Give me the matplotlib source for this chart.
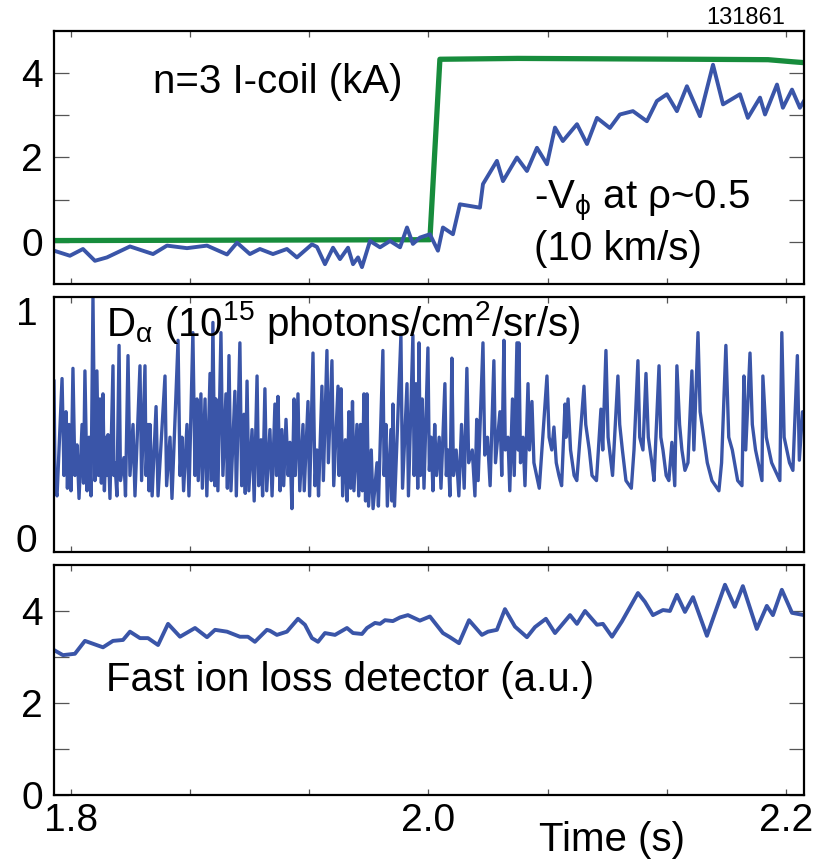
import matplotlib
matplotlib.use("Agg")
import matplotlib.pyplot as plt

plt.rcParams['font.family'] = ['Liberation Sans', 'DejaVu Sans']
plt.rcParams['mathtext.fontset'] = 'custom'
plt.rcParams['mathtext.rm'] = 'Liberation Sans'
plt.rcParams['mathtext.it'] = 'Liberation Sans'

BLUE = '#3a55a8'
GREEN = '#178c3c'

# n=3 I-coil current (kA)
ic_t = [1.7905, 2.0008, 2.0064, 2.05, 2.10, 2.15, 2.19, 2.2039, 2.2101]
ic_v = [0.03, 0.05, 4.33, 4.35, 4.34, 4.33, 4.32, 4.27, 4.25]

# -V_phi at rho~0.5 (10 km/s)
vp_t = [1.7905, 1.7994, 1.8067, 1.8134, 1.8201, 1.8330, 1.8459, 1.8537, 1.8649, 1.8761,
        1.8873, 1.8929, 1.9001, 1.9057, 1.9130, 1.9208, 1.9264, 1.9348, 1.9376, 1.9421,
        1.9466, 1.9505, 1.9550, 1.9578, 1.9606, 1.9628, 1.9673, 1.9729, 1.9785, 1.9841,
        1.9880, 1.9913, 1.9952, 2.0008, 2.0053, 2.0081, 2.0137, 2.0176, 2.0288, 2.0305,
        2.0383, 2.0417, 2.0495, 2.0551, 2.0607, 2.0663, 2.0708, 2.0752, 2.0831, 2.0887,
        2.0943, 2.1015, 2.1071, 2.1144, 2.1222, 2.1278, 2.1334, 2.1390, 2.1446, 2.1519,
        2.1592, 2.1648, 2.1743, 2.1787, 2.1855, 2.1883, 2.1950, 2.1983, 2.2034, 2.2078,
        2.2101]
vp_v = [-0.21, -0.33, -0.17, -0.45, -0.37, -0.11, -0.29, -0.09, -0.15, -0.09,
        -0.30, -0.02, -0.29, -0.17, -0.29, -0.17, -0.37, -0.06, -0.12, -0.53,
        -0.14, -0.41, -0.14, -0.53, -0.37, -0.60, 0.02, -0.13, 0.02, -0.13,
        0.34, -0.05, 0.10, 0.18, -0.21, 0.34, 0.18, 0.89, 0.81, 1.37,
        1.92, 1.44, 2.00, 1.68, 2.23, 1.84, 2.71, 2.39, 2.79, 2.32,
        2.94, 2.70, 3.02, 3.10, 2.86, 3.34, 3.50, 3.10, 3.69, 2.98,
        4.20, 3.26, 3.50, 2.94, 3.42, 3.02, 3.73, 3.18, 3.61, 3.18,
        3.34]

# D-alpha (1e15 photons/cm2/sr/s)
da_t = [1.7905, 1.7911, 1.7922, 1.7950, 1.7961, 1.7972, 1.7980, 1.7989, 1.8000, 1.8011,
        1.8022, 1.8034, 1.8045, 1.8062, 1.8070, 1.8078, 1.8090, 1.8101, 1.8112, 1.8123,
        1.8134, 1.8145, 1.8154, 1.8162, 1.8170, 1.8179, 1.8187, 1.8196, 1.8201, 1.8207,
        1.8218, 1.8235, 1.8240, 1.8246, 1.8257, 1.8269, 1.8277, 1.8296, 1.8305, 1.8319,
        1.8330, 1.8347, 1.8358, 1.8386, 1.8395, 1.8414, 1.8420, 1.8431, 1.8437, 1.8442,
        1.8454, 1.8476, 1.8487, 1.8526, 1.8535, 1.8554, 1.8565, 1.8599, 1.8610, 1.8621,
        1.8630, 1.8649, 1.8660, 1.8682, 1.8694, 1.8705, 1.8712, 1.8727, 1.8735, 1.8750,
        1.8760, 1.8778, 1.8785, 1.8794, 1.8805, 1.8811, 1.8822, 1.8839, 1.8850, 1.8867,
        1.8875, 1.8884, 1.8895, 1.8917, 1.8925, 1.8945, 1.8955, 1.8968, 1.8975, 1.8985,
        1.8995, 1.9013, 1.9025, 1.9041, 1.9050, 1.9063, 1.9072, 1.9085, 1.9095, 1.9113,
        1.9125, 1.9141, 1.9150, 1.9158, 1.9170, 1.9180, 1.9190, 1.9203, 1.9215, 1.9225,
        1.9236, 1.9248, 1.9255, 1.9270, 1.9280, 1.9298, 1.9305, 1.9326, 1.9335, 1.9354,
        1.9365, 1.9376, 1.9385, 1.9404, 1.9412, 1.9432, 1.9440, 1.9460, 1.9470, 1.9494,
        1.9500, 1.9511, 1.9520, 1.9535, 1.9545, 1.9555, 1.9565, 1.9575, 1.9583, 1.9600,
        1.9610, 1.9620, 1.9630, 1.9639, 1.9648, 1.9656, 1.9665, 1.9680, 1.9690, 1.9712,
        1.9720, 1.9745, 1.9752, 1.9762, 1.9770, 1.9790, 1.9795, 1.9801, 1.9810, 1.9846,
        1.9855, 1.9880, 1.9888, 1.9913, 1.9920, 1.9930, 1.9940, 1.9947, 1.9955, 1.9965,
        1.9975, 1.9997, 2.0005, 2.0015, 2.0025, 2.0035, 2.0045, 2.0060, 2.0070, 2.0092,
        2.0100, 2.0110, 2.0120, 2.0131, 2.0140, 2.0155, 2.0170, 2.0185, 2.0200, 2.0215,
        2.0225, 2.0245, 2.0260, 2.0270, 2.0278, 2.0305, 2.0315, 2.0330, 2.0345, 2.0366,
        2.0375, 2.0400, 2.0410, 2.0422, 2.0430, 2.0445, 2.0455, 2.0470, 2.0480, 2.0495,
        2.0502, 2.0506, 2.0515, 2.0529, 2.0540, 2.0557, 2.0565, 2.0579, 2.0590, 2.0605,
        2.0620, 2.0663, 2.0675, 2.0690, 2.0702, 2.0715, 2.0730, 2.0745, 2.0764, 2.0770,
        2.0781, 2.0795, 2.0815, 2.0830, 2.0870, 2.0880, 2.0900, 2.0915, 2.0940, 2.0965,
        2.0975, 2.0993, 2.1005, 2.1030, 2.1060, 2.1070, 2.1085, 2.1105, 2.1135, 2.1150,
        2.1172, 2.1182, 2.1200, 2.1217, 2.1230, 2.1250, 2.1262, 2.1290, 2.1300, 2.1312,
        2.1330, 2.1345, 2.1362, 2.1378, 2.1390, 2.1405, 2.1418, 2.1435, 2.1452, 2.1474,
        2.1485, 2.1508, 2.1520, 2.1540, 2.1560, 2.1586, 2.1625, 2.1640, 2.1664, 2.1680,
        2.1700, 2.1730, 2.1754, 2.1765, 2.1775, 2.1799, 2.1812, 2.1830, 2.1866, 2.1871,
        2.1890, 2.1920, 2.1966, 2.1977, 2.1990, 2.2020, 2.2039, 2.2064, 2.2075, 2.2093,
        2.2101]
da_v = [0.67, 0.25, 0.22, 0.68, 0.30, 0.55, 0.25, 0.50, 0.24, 0.72,
        0.30, 0.42, 0.21, 0.50, 0.27, 0.71, 0.24, 0.45, 0.22, 1.00,
        0.28, 0.71, 0.30, 0.60, 0.27, 0.62, 0.24, 0.45, 0.30, 0.46,
        0.21, 0.73, 0.30, 0.35, 0.22, 0.81, 0.28, 0.37, 0.22, 0.77,
        0.30, 0.50, 0.22, 0.73, 0.28, 0.73, 0.30, 0.50, 0.24, 0.50,
        0.22, 0.57, 0.22, 0.69, 0.26, 0.45, 0.21, 0.83, 0.30, 0.45,
        0.24, 0.50, 0.22, 0.86, 0.30, 0.60, 0.28, 0.62, 0.25, 0.60,
        0.22, 0.70, 0.28, 0.90, 0.26, 0.60, 0.24, 0.86, 0.30, 0.62,
        0.25, 0.77, 0.24, 0.63, 0.22, 0.82, 0.26, 0.54, 0.23, 0.67,
        0.24, 0.48, 0.20, 0.69, 0.26, 0.44, 0.22, 0.64, 0.24, 0.48,
        0.22, 0.58, 0.30, 0.61, 0.24, 0.48, 0.26, 0.52, 0.30, 0.43,
        0.17, 0.60, 0.30, 0.62, 0.24, 0.50, 0.24, 0.59, 0.22, 0.78,
        0.26, 0.40, 0.22, 0.65, 0.28, 0.79, 0.35, 0.75, 0.26, 0.65,
        0.30, 0.64, 0.22, 0.44, 0.20, 0.55, 0.25, 0.59, 0.24, 0.50,
        0.22, 0.50, 0.24, 0.62, 0.20, 0.62, 0.18, 0.40, 0.17, 0.35,
        0.18, 0.79, 0.30, 0.50, 0.18, 0.48, 0.20, 0.58, 0.18, 0.85,
        0.25, 0.66, 0.22, 0.85, 0.30, 0.66, 0.25, 0.82, 0.30, 0.60,
        0.25, 0.80, 0.32, 0.45, 0.24, 0.50, 0.30, 0.45, 0.25, 0.66,
        0.30, 0.40, 0.22, 0.76, 0.30, 0.40, 0.22, 0.50, 0.25, 0.72,
        0.35, 0.40, 0.22, 0.52, 0.28, 0.82, 0.38, 0.45, 0.26, 0.75,
        0.35, 0.55, 0.30, 0.83, 0.40, 0.45, 0.24, 0.60, 0.30, 0.82,
        0.40, 0.82, 0.35, 0.45, 0.26, 0.66, 0.40, 0.59, 0.35, 0.30,
        0.25, 0.69, 0.45, 0.40, 0.49, 0.35, 0.30, 0.26, 0.58, 0.45,
        0.60, 0.40, 0.30, 0.28, 0.65, 0.50, 0.40, 0.30, 0.28, 0.56,
        0.40, 0.79, 0.45, 0.30, 0.69, 0.50, 0.40, 0.28, 0.25, 0.40,
        0.75, 0.45, 0.40, 0.70, 0.45, 0.35, 0.28, 0.73, 0.45, 0.40,
        0.30, 0.28, 0.43, 0.26, 0.73, 0.50, 0.40, 0.32, 0.35, 0.71,
        0.40, 0.86, 0.55, 0.45, 0.35, 0.28, 0.24, 0.35, 0.81, 0.45,
        0.40, 0.28, 0.26, 0.69, 0.40, 0.78, 0.50, 0.40, 0.28, 0.69,
        0.45, 0.35, 0.28, 0.86, 0.45, 0.35, 0.32, 0.77, 0.36, 0.55,
        0.50]

# fast ion loss detector (a.u.)
fi_t = [1.7905, 1.7955, 1.8022, 1.8078, 1.8179, 1.8235, 1.8291, 1.8330, 1.8386, 1.8431,
        1.8487, 1.8543, 1.8610, 1.8694, 1.8761, 1.8806, 1.8873, 1.8945, 1.8990, 1.9029,
        1.9096, 1.9113, 1.9152, 1.9208, 1.9270, 1.9309, 1.9348, 1.9382, 1.9421, 1.9477,
        1.9544, 1.9578, 1.9628, 1.9656, 1.9701, 1.9729, 1.9757, 1.9801, 1.9841, 1.9885,
        1.9952, 2.0008, 2.0081, 2.0120, 2.0171, 2.0227, 2.0299, 2.0333, 2.0383, 2.0428,
        2.0484, 2.0551, 2.0596, 2.0657, 2.0708, 2.0792, 2.0831, 2.0876, 2.0943, 2.0976,
        2.1027, 2.1082, 2.1172, 2.1211, 2.1256, 2.1312, 2.1351, 2.1390, 2.1435, 2.1480,
        2.1558, 2.1659, 2.1714, 2.1759, 2.1837, 2.1893, 2.1927, 2.1977, 2.2034, 2.2101]
fi_v = [3.15, 3.04, 3.07, 3.35, 3.21, 3.35, 3.37, 3.55, 3.41, 3.41,
        3.26, 3.72, 3.44, 3.63, 3.43, 3.59, 3.55, 3.44, 3.44, 3.33,
        3.59, 3.57, 3.48, 3.55, 3.83, 3.70, 3.41, 3.33, 3.52, 3.48,
        3.63, 3.52, 3.50, 3.63, 3.74, 3.72, 3.80, 3.78, 3.86, 3.91,
        3.79, 3.88, 3.52, 3.43, 3.30, 3.80, 3.48, 3.55, 3.59, 4.04,
        3.66, 3.43, 3.65, 3.83, 3.52, 3.91, 3.72, 4.00, 3.70, 3.72,
        3.44, 3.77, 4.39, 4.20, 3.91, 4.02, 4.00, 4.35, 3.98, 4.30,
        3.46, 4.57, 4.09, 4.54, 3.61, 4.11, 3.91, 4.46, 3.96, 3.91]

xticks = [1.8, 1.8 + 0.2 / 3, 1.8 + 0.4 / 3, 2.0, 2.0 + 0.2 / 3, 2.0 + 0.4 / 3, 2.2]
xlabels = ['1.8', '', '', '2.0', '', '', '2.2']
xlim = (1.7905, 2.2101)

fig = plt.figure(figsize=(8.36, 8.59), dpi=100)
left, width = 0.0646, 0.8971
ax1 = fig.add_axes([left, 0.6694, width, 0.2945])
ax2 = fig.add_axes([left, 0.3574, width, 0.2969])
ax3 = fig.add_axes([left, 0.0745, width, 0.2678])

for ax in (ax1, ax2, ax3):
    ax.set_xlim(*xlim)
    ax.set_xticks(xticks)
    ax.set_xticklabels([])
    for s in ax.spines.values():
        s.set_linewidth(1.6)
    ax.tick_params(direction='in', top=True, right=True, labelsize=28,
                   color='#555555', width=0.9)
    ax.tick_params(axis='x', length=4, pad=6)
    ax.tick_params(axis='y', length=11, pad=8)

# top panel
ax1.plot(ic_t, ic_v, color=GREEN, lw=3.8, solid_joinstyle='round')
ax1.plot(vp_t, vp_v, color=BLUE, lw=2.8, solid_joinstyle='round')
ax1.set_ylim(-1, 5)
ax1.set_yticks([0, 1, 2, 3, 4])
ax1.set_yticklabels(['0', '', '2', '', '4'])
ax1.text(0.132, 0.80, 'n=3 I-coil (kA)', transform=ax1.transAxes,
         fontsize=29, va='center', ha='left')
ax1.text(0.64, 0.33, r'-V$_\phi$ at ρ~0.5', transform=ax1.transAxes,
         fontsize=29, va='center', ha='left')
ax1.text(0.64, 0.14, '(10 km/s)', transform=ax1.transAxes,
         fontsize=29, va='center', ha='left')

# middle panel
ax2.plot(da_t, da_v, color=BLUE, lw=2.4, solid_joinstyle='round')
ax2.set_ylim(0, 1)
ax2.set_yticks([0, 1])
ax2.set_yticklabels(['0', '1'])
ax2.tick_params(axis='y', length=0, pad=12)
for lab, va in zip(ax2.get_yticklabels(), ['baseline', 'top']):
    lab.set_verticalalignment(va)
ax2.text(0.069, 0.90, r'D$_\alpha$ (10$^{15}$ photons/cm$^2$/sr/s)',
         transform=ax2.transAxes, fontsize=29, va='center', ha='left')

# bottom panel
ax3.plot(fi_t, fi_v, color=BLUE, lw=2.8, solid_joinstyle='round')
ax3.set_ylim(0, 5)
ax3.set_yticks([0, 1, 2, 3, 4])
ax3.set_yticklabels(['0', '', '2', '', '4'])
ax3.set_xticklabels(xlabels)
ax3.text(0.069, 0.50, 'Fast ion loss detector (a.u.)', transform=ax3.transAxes,
         fontsize=29, va='center', ha='left')

fig.text(0.732, 0.022, 'Time (s)', fontsize=29, ha='center', va='center')
fig.text(0.939, 0.979, '131861', fontsize=17, ha='right', va='center')

fig.savefig('out.png', dpi=100)
